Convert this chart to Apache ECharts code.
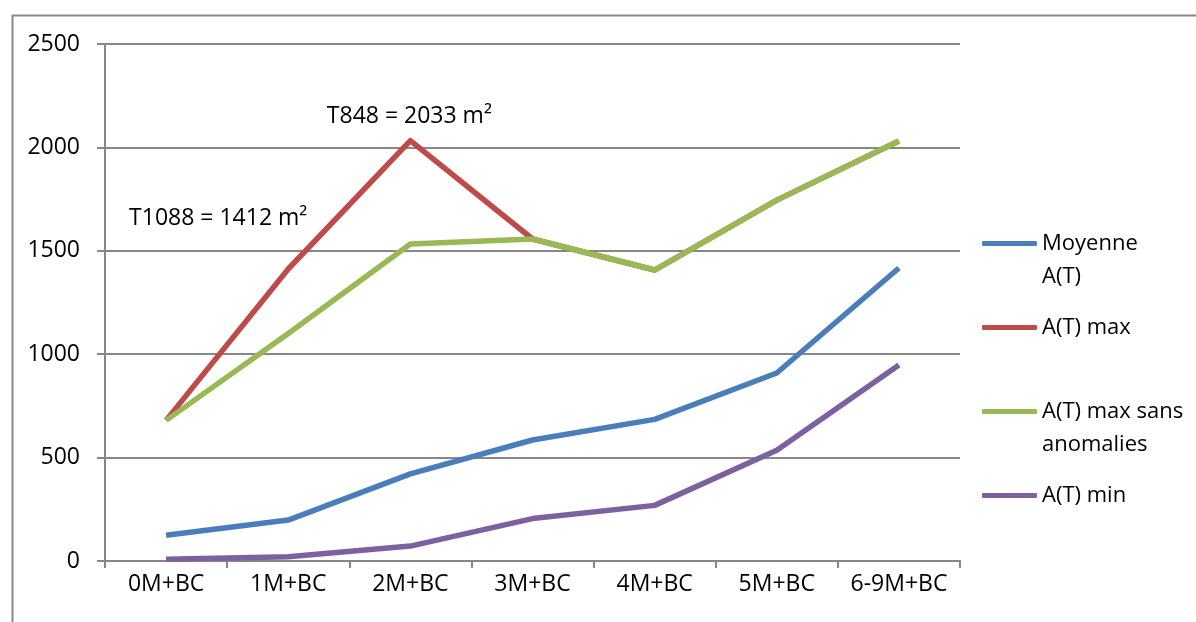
<!DOCTYPE html>
<html>
<head>
<meta charset="utf-8">
<script src="https://cdn.jsdelivr.net/npm/echarts@6/dist/echarts.min.js"></script>
<style>
  html, body { margin: 0; padding: 0; background: #fff; }
  #main { width: 1196px; height: 622px; }
</style>
</head>
<body>
<div id="main"></div>
<script>
var categories = ['0M+BC', '1M+BC', '2M+BC', '3M+BC', '4M+BC', '5M+BC', '6-9M+BC'];
var moyenne = [125, 198, 421, 585, 685, 909, 1417];
var atMax = [680, 1412, 2033, 1557, 1407, 1745, 2031];
var atMaxSans = [680, 1100, 1533, 1557, 1407, 1745, 2031];
var atMin = [8, 21, 72, 205, 269, 535, 948];
var names = ['Moyenne A(T)', 'A(T) max', 'A(T) max sans anomalies', 'A(T) min'];
// a leading blank line keeps the icon level with the first text line
var legendLabels = ['\nMoyenne\nA(T)', 'A(T) max', '\nA(T) max sans\nanomalies', 'A(T) min'];
var colors = ['#4a7ebb', '#be4b48', '#98b954', '#7d60a0'];

var font = 'Open Sans';
var fontSize = 23;
var gray = '#878787';

var chart = echarts.init(document.getElementById('main'), null, { renderer: 'canvas' });

function makeLegend(i, top) {
  return {
    orient: 'vertical',
    left: 982,
    top: top,
    padding: 0,
    itemWidth: 55,
    itemHeight: 5,
    itemGap: 0,
    icon: 'roundRect',
    itemStyle: { color: colors[i] },
    data: [names[i]],
    formatter: function () { return legendLabels[i]; },
    textStyle: {
      fontFamily: font,
      fontSize: 22,
      color: '#000',
      lineHeight: 33
    }
  };
}

function lineSeries(i, data, extra) {
  var s = {
    name: names[i],
    type: 'line',
    data: data,
    showSymbol: false,
    symbol: 'none',
    lineStyle: { color: colors[i], width: 5.5, join: 'round' },
    itemStyle: { color: colors[i] }
  };
  return Object.assign(s, extra || {});
}

var option = {
  animation: false,
  color: colors,
  grid: { left: 105, right: 236, top: 44, bottom: 61 },
  legend: [
    makeLegend(0, 194),
    makeLegend(1, 311),
    makeLegend(2, 362),
    makeLegend(3, 479)
  ],
  graphic: [{
    type: 'rect',
    left: 10,
    top: 13,
    shape: { width: 1300, height: 700 },
    style: { fill: 'none', stroke: gray, lineWidth: 2 },
    silent: true
  }],
  xAxis: {
    type: 'category',
    data: categories,
    boundaryGap: true,
    axisLine: { lineStyle: { color: gray, width: 2 } },
    axisTick: { show: true, interval: 0, length: 7, lineStyle: { color: gray, width: 2 } },
    axisLabel: { interval: 0, fontFamily: font, fontSize: 23, color: '#000', margin: 12 }
  },
  yAxis: {
    type: 'value',
    min: 0,
    max: 2500,
    interval: 500,
    axisLine: { show: true, lineStyle: { color: gray, width: 2 } },
    axisTick: { show: true, length: 8, lineStyle: { color: gray, width: 2 } },
    splitLine: { lineStyle: { color: gray, width: 2 } },
    axisLabel: {
      fontFamily: font, fontSize: fontSize, color: '#000', margin: 25,
      formatter: function (v) { return String(v); }
    }
  },
  series: [
    lineSeries(0, moyenne),
    lineSeries(1, atMax, {
      markPoint: {
        symbol: 'circle',
        symbolSize: 1,
        itemStyle: { color: 'rgba(0,0,0,0)' },
        label: { show: true, fontFamily: font, fontSize: 23, color: '#000', position: 'inside' },
        data: [
          { coord: [categories[1], atMax[1]], label: { formatter: 'T1088 = 1412 m²', offset: [-70, -51] } },
          { coord: [categories[2], atMax[2]], label: { formatter: 'T848 = 2033 m²', offset: [-1, -24] } }
        ]
      }
    }),
    lineSeries(2, atMaxSans),
    lineSeries(3, atMin)
  ]
};

chart.setOption(option);
window.addEventListener('resize', chart.resize);
</script>
</body>
</html>
